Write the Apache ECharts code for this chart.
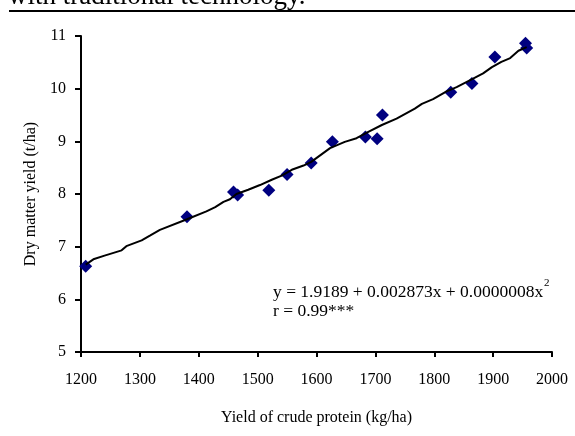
<!DOCTYPE html>
<html>
<head>
<meta charset="utf-8">
<script src="https://cdn.jsdelivr.net/npm/echarts@6/dist/echarts.min.js"></script>
<style>
  html, body { margin: 0; padding: 0; background: #fff; }
  #chart { width: 575px; height: 436px; }
</style>
</head>
<body>
<div id="chart"></div>
<script>
// ── observed points ──
const pointX = [1208, 1380, 1459, 1466, 1519, 1550, 1591, 1627, 1683, 1703, 1712, 1828, 1864, 1903, 1955, 1957];
const pointY = [6.63, 7.57, 8.04, 7.98, 8.07, 8.37, 8.59, 8.99, 9.08, 9.05, 9.50, 9.93, 10.10, 10.60, 10.86, 10.77];

// ── fitted curve ──
const lineX = [1208, 1221, 1240, 1269, 1277, 1303, 1317, 1334, 1380, 1413, 1428, 1442, 1453, 1464, 1484, 1504, 1524, 1541, 1558, 1578, 1591, 1623, 1648, 1668, 1688, 1711, 1736, 1767, 1779, 1798, 1821, 1838, 1866, 1883, 1898, 1914, 1929, 1943, 1957];
const lineY = [6.66, 6.76, 6.83, 6.93, 7.01, 7.12, 7.21, 7.32, 7.52, 7.67, 7.75, 7.85, 7.90, 8.00, 8.08, 8.17, 8.27, 8.35, 8.46, 8.54, 8.61, 8.87, 8.99, 9.06, 9.18, 9.31, 9.43, 9.62, 9.71, 9.80, 9.95, 10.03, 10.19, 10.29, 10.41, 10.51, 10.58, 10.72, 10.79];

const X_MIN = 1200, X_MAX = 2000, X_STEP = 100;
const Y_MIN = 5, Y_MAX = 11, Y_STEP = 1;

const FONT = "'Liberation Serif', 'Times New Roman', serif";

const chart = echarts.init(document.getElementById("chart"));

chart.setOption({
  animation: false,
  backgroundColor: "#fff",
  grid: { left: 81, right: 23, top: 36, bottom: 84 },
  xAxis: {
    type: "value",
    min: X_MIN, max: X_MAX, interval: X_STEP,
    name: "Yield of crude protein (kg/ha)",
    nameLocation: "middle",
    nameGap: 58,
    nameTextStyle: { fontFamily: FONT, fontSize: 16, color: "#000" },
    axisLine: { lineStyle: { color: "#000", width: 2 } },
    axisTick: { length: 5, lineStyle: { color: "#000", width: 2 } },
    axisLabel: { margin: 20, fontFamily: FONT, fontSize: 16, color: "#000", formatter: (v) => String(v) },
    splitLine: { show: false },
  },
  yAxis: {
    type: "value",
    min: Y_MIN, max: Y_MAX, interval: Y_STEP,
    name: "Dry matter yield (t/ha)",
    nameLocation: "middle",
    nameGap: 40,
    nameTextStyle: { fontFamily: FONT, fontSize: 16, color: "#000" },
    axisLine: { show: true, lineStyle: { color: "#000", width: 2 } },
    axisTick: { show: true, length: 6, lineStyle: { color: "#000", width: 2 } },
    axisLabel: { margin: 15, fontFamily: FONT, fontSize: 16, color: "#000" },
    splitLine: { show: false },
  },
  series: [
    {
      type: "line",
      data: lineX.map((x, i) => [x, lineY[i]]),
      showSymbol: false,
      smooth: false,
      lineStyle: { color: "#000", width: 2 },
      z: 3,
    },
    {
      type: "scatter",
      data: pointX.map((x, i) => [x, pointY[i]]),
      symbol: "diamond",
      symbolSize: 13,
      itemStyle: { color: "#000080", opacity: 1 },
      z: 2,
    },
  ],
  graphic: [
    {
      type: "text",
      left: 8, top: -17,
      style: { text: "with traditional technology.", font: "27px " + FONT, fill: "#000" },
    },
    {
      type: "rect",
      shape: { x: 9, y: 10, width: 566, height: 2 },
      style: { fill: "#000" },
    },
    {
      type: "text",
      left: 273, top: 283,
      style: { text: "y = 1.9189 + 0.002873x + 0.0000008x", font: "17.5px " + FONT, fill: "#000" },
    },
    {
      type: "text",
      left: 544, top: 278,
      style: { text: "2", font: "11px " + FONT, fill: "#000" },
    },
    {
      type: "text",
      left: 273, top: 302,
      style: { text: "r = 0.99***", font: "17.5px " + FONT, fill: "#000" },
    },
  ],
});
</script>
</body>
</html>
